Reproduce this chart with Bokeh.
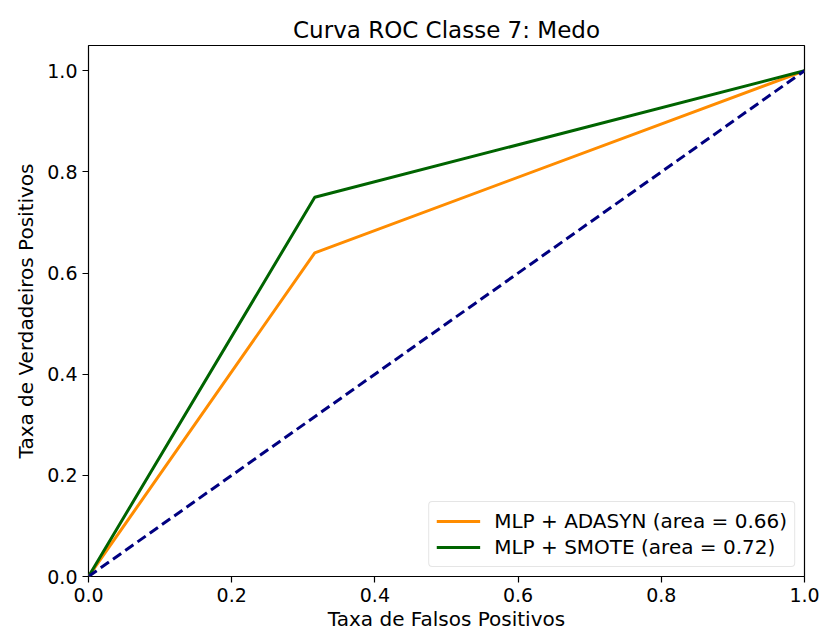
from bokeh.plotting import figure
from bokeh.models import FixedTicker, PrintfTickFormatter, Range1d, Legend, LegendItem
from bokeh.embed import file_html
from bokeh.resources import INLINE

# ROC points for each model
fpr_adasyn = [0.0, 0.316, 1.0]
tpr_adasyn = [0.0, 0.64, 1.0]
fpr_smote = [0.0, 0.316, 1.0]
tpr_smote = [0.0, 0.75, 1.0]
chance_x = [0.0, 1.0]
chance_y = [0.0, 1.0]
label_adasyn = "MLP + ADASYN (area = 0.66)"
label_smote = "MLP + SMOTE (area = 0.72)"
ticks = [0.0, 0.2, 0.4, 0.6, 0.8, 1.0]

FONT = "DejaVu Sans"

p = figure(width=821, height=639, output_backend="svg", toolbar_location=None,
           x_range=Range1d(0.0, 1.0), y_range=Range1d(0.0, 1.05),
           title="Curva ROC Classe 7: Medo",
           min_border_left=88, min_border_right=17, min_border_top=45, min_border_bottom=63)

p.title.align = "center"
p.title.text_font = FONT
p.title.text_font_size = "23px"
p.title.text_font_style = "normal"
p.title.text_color = "black"
p.title.standoff = 6

p.grid.visible = False
p.outline_line_color = "black"
p.outline_line_width = 1.2
p.background_fill_color = "white"
p.border_fill_color = "white"

for ax in (p.xaxis[0], p.yaxis[0]):
    ax.ticker = FixedTicker(ticks=ticks)
    ax.formatter = PrintfTickFormatter(format="%.1f")
    ax.major_tick_in = 0
    ax.major_tick_out = 6
    ax.minor_tick_line_color = None
    ax.axis_line_color = None
    ax.major_tick_line_color = "black"
    ax.major_tick_line_width = 1.2
    ax.major_label_standoff = 5
    ax.major_label_text_font = FONT
    ax.major_label_text_font_size = "19px"
    ax.major_label_text_color = "black"
    ax.axis_label_text_font = FONT
    ax.axis_label_text_font_size = "20px"
    ax.axis_label_text_font_style = "normal"
    ax.axis_label_text_color = "black"

p.xaxis.axis_label = "Taxa de Falsos Positivos"
p.yaxis.axis_label = "Taxa de Verdadeiros Positivos"
p.xaxis.axis_label_standoff = 2
p.yaxis.axis_label_standoff = 6

r_a = p.line(fpr_adasyn, tpr_adasyn, line_color="darkorange", line_width=3)
r_s = p.line(fpr_smote, tpr_smote, line_color="darkgreen", line_width=3)
p.line(chance_x, chance_y, line_color="navy", line_width=3, line_dash="10 5")

legend = Legend(items=[LegendItem(label=label_adasyn, renderers=[r_a]),
                       LegendItem(label=label_smote, renderers=[r_s])],
                location="bottom_right")
legend.label_text_font = FONT
legend.label_text_font_size = "20px"
legend.label_text_color = "black"
legend.label_height = 22
legend.glyph_height = 22
legend.border_line_color = "#cccccc"
legend.border_line_width = 1
legend.border_radius = 4
legend.background_fill_alpha = 0.9
legend.glyph_width = 44
legend.label_standoff = 14
legend.spacing = 2
legend.padding = 7
legend.margin = 9
p.add_layout(legend)

open("out.html", "w").write(file_html(p, INLINE))
